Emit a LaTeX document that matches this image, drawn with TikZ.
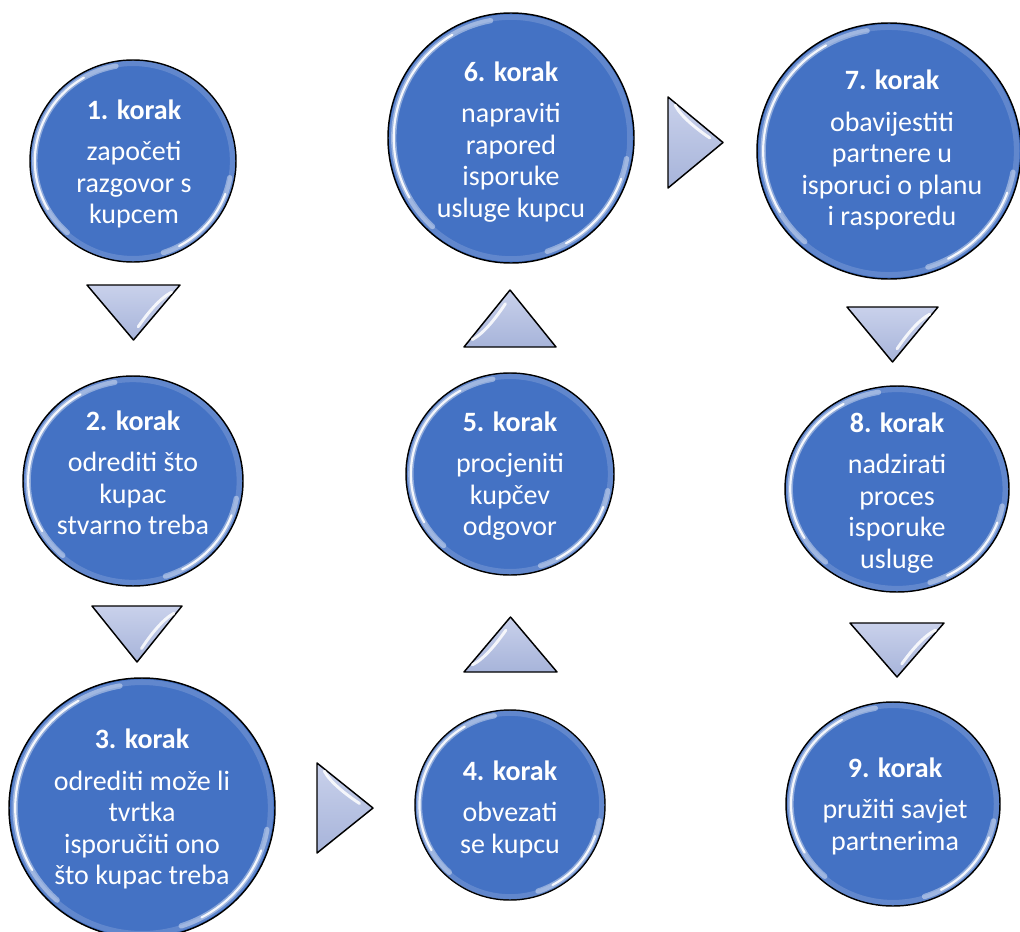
\documentclass[tikz,border=0pt]{standalone}
\usepackage{fontspec}
\setmainfont{Carlito}
\usetikzlibrary{shapes.geometric}
\definecolor{stepblue}{HTML}{4472C4}
\definecolor{trilight}{HTML}{C9D1EB}
\definecolor{tridark}{HTML}{A7B4DA}
\tikzset{
  stepcircle/.style={ellipse, draw=black, line width=1.1pt, fill=stepblue, inner sep=0pt},
  steptext/.style={text=white, align=center, inner sep=0pt, font=\fontsize{21}{23.6}\selectfont},
  rim/.style={stepblue!55!white, line width=4pt, opacity=0.35},
  gloss/.style={white, line width=4pt, opacity=0.4, line cap=round},
  glossthin/.style={white, line width=1.6pt, opacity=0.9, line cap=round},
  tri/.style={draw=black, line width=1.1pt, top color=trilight, bottom color=tridark, line join=round},
  trigloss/.style={white, line width=2.2pt, opacity=0.85, line cap=round}
}
\newcommand\glosscirc[3]{%
  \begin{scope}[shift={(#1.center)}, x=1pt, y=1pt]
    \draw[rim] plot[domain=0:360, samples=72, smooth] ({#2*0.725*cos(\x)},{#3*0.725*sin(\x)});
    \draw[gloss] plot[domain=100:228, samples=40, smooth] ({#2*0.715*cos(\x)},{#3*0.715*sin(\x)});
    \draw[glossthin] plot[domain=120:210, samples=40, smooth] ({#2*0.715*cos(\x)},{#3*0.715*sin(\x)});
    \draw[gloss] plot[domain=-72:-10, samples=30, smooth] ({#2*0.715*cos(\x)},{#3*0.715*sin(\x)});
    \draw[glossthin] plot[domain=-62:-20, samples=30, smooth] ({#2*0.715*cos(\x)},{#3*0.715*sin(\x)});
  \end{scope}}
\newcommand\arrowtri[5]{%
  \begin{scope}[shift={(#1,-#2)}, rotate=#3, x=1pt, y=1pt]
    \draw[tri] ({-#4*0.375},{#5*0.375}) -- ({#4*0.375},{#5*0.375}) -- (0,{-#5*0.375}) -- cycle;
    \draw[trigloss] ({0.05*#4*0.75},{-0.26*#5*0.75}) .. controls ({0.14*#4*0.75},{-0.04*#5*0.75}) and ({0.28*#4*0.75},{0.26*#5*0.75}) .. ({0.41*#4*0.75},{0.37*#5*0.75});
  \end{scope}}
\begin{document}
\begin{tikzpicture}[x=0.75pt, y=0.75pt]
\useasboundingbox (0,0) rectangle (1020,-931);
\fill[white] (0,0) rectangle (1020,-931);

% circles
\node[stepcircle, minimum width=154.5pt, minimum height=151.5pt] (s1) at (133,-161) {};
\node[stepcircle, minimum width=165pt, minimum height=157.5pt] (s2) at (133,-481) {};
\node[stepcircle, minimum width=199.5pt, minimum height=195pt] (s3) at (142,-808) {};
\node[stepcircle, minimum width=142.5pt, minimum height=142.5pt] (s4) at (510,-805) {};
\node[stepcircle, minimum width=156pt, minimum height=151.5pt] (s5) at (510,-474) {};
\node[stepcircle, minimum width=184.5pt, minimum height=187.5pt] (s6) at (511,-138) {};
\node[stepcircle, minimum width=198pt, minimum height=192pt] (s7) at (889,-151) {};
\node[stepcircle, minimum width=168pt, minimum height=154.5pt] (s8) at (897,-489) {};
\node[stepcircle, minimum width=160.5pt, minimum height=153pt] (s9) at (893,-804) {};

\glosscirc{s1}{103}{101}
\glosscirc{s2}{110}{105}
\glosscirc{s3}{133}{130}
\glosscirc{s4}{95}{95}
\glosscirc{s5}{104}{101}
\glosscirc{s6}{123}{125}
\glosscirc{s7}{132}{128}
\glosscirc{s8}{112}{103}
\glosscirc{s9}{107}{102}

% texts
\node[steptext] (l1) at (134,-164) {\textbf{1. korak}\\[7.5pt]započeti\\razgovor s\\kupcem};
\node[steptext] (l2) at (133,-473) {\textbf{2. korak}\\[7.5pt]odrediti što\\kupac\\stvarno treba};
\node[steptext] (l3) at (142,-809) {\textbf{3. korak}\\[7.5pt]odrediti može li\\tvrtka\\isporučiti ono\\što kupac treba};
\node[steptext] (l4) at (510,-809) {\textbf{4. korak}\\[7.5pt]obvezati\\se kupcu};
\node[steptext] (l5) at (510,-476) {\textbf{5. korak}\\[7.5pt]procjeniti\\kupčev\\odgovor};
\node[steptext] (l6) at (511,-142) {\textbf{6. korak}\\[7.5pt]napraviti\\rapored\\isporuke\\usluge kupcu};
\node[steptext] (l7) at (892,-150) {\textbf{7. korak}\\[7.5pt]obavijestiti\\partnere u\\isporuci o planu\\i rasporedu};
\node[steptext] (l8) at (897,-493) {\textbf{8. korak}\\[7.5pt]nadzirati\\proces\\isporuke\\usluge};
\node[steptext] (l9) at (895,-806) {\textbf{9. korak}\\[7.5pt]pružiti savjet\\partnerima};

% arrow triangles
\arrowtri{133.5}{312.5}{0}{93}{55}
\arrowtri{137}{634}{0}{90}{56}
\arrowtri{345}{808}{90}{90}{56}
\arrowtri{510.5}{644.5}{180}{93}{55}
\arrowtri{510}{318.5}{180}{92}{57}
\arrowtri{695.5}{142.5}{90}{91}{55}
\arrowtri{892.5}{334.5}{0}{91}{55}
\arrowtri{897}{650}{0}{94}{54}
\end{tikzpicture}
\end{document}
